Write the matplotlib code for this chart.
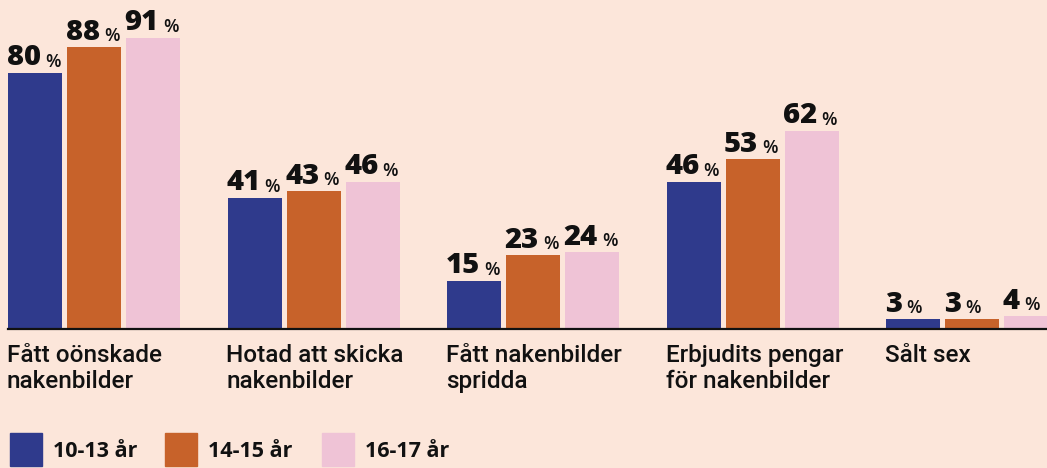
import matplotlib
matplotlib.use("Agg")
import matplotlib.pyplot as plt

categories = ["Fått oönskade\nnakenbilder", "Hotad att skicka\nnakenbilder",
              "Fått nakenbilder\nspridda", "Erbjudits pengar\nför nakenbilder", "Sålt sex"]
series_names = ["10-13 år", "14-15 år", "16-17 år"]
v_10_13 = [80, 41, 15, 46, 3]
v_14_15 = [88, 43, 23, 53, 3]
v_16_17 = [91, 46, 24, 62, 4]
values = [v_10_13, v_14_15, v_16_17]
colors = ["#2f3a8c", "#c7622a", "#efc3d6"]
bg = "#fce6da"
ink = "#111111"

W, H = 1047, 468
fig = plt.figure(figsize=(W / 100, H / 100), dpi=100, facecolor=bg)
# axes in pixel units
ax_left, ax_bottom_px, ax_top_px = 8, 329, 9
ax = fig.add_axes([ax_left / W, (H - ax_bottom_px) / H, (W - ax_left) / W,
                   (ax_bottom_px - ax_top_px) / H])
ax.set_facecolor(bg)
ax.set_xlim(0, W - ax_left)
ax.set_ylim(0, 100)
for s in ["top", "right", "left"]:
    ax.spines[s].set_visible(False)
ax.spines["bottom"].set_linewidth(1.6)
ax.spines["bottom"].set_color(ink)
ax.set_xticks([])
ax.set_yticks([])

group_step = 219.5
bar_w = 54
bar_step = 59
font = "Open Sans"
label_font = "Roboto"

for k, (vals, col) in enumerate(zip(values, colors)):
    xs = [g * group_step + k * bar_step for g in range(len(categories))]
    ax.bar(xs, vals, width=bar_w, align="edge", color=col, clip_on=False, zorder=2)
    for x, v in zip(xs, vals):
        num = ax.annotate(f"{v}", xy=(x, v), xytext=(-1, 5.5), textcoords="offset points",
                          ha="left", va="baseline", fontsize=21, fontweight=800,
                          color=ink, family=font, annotation_clip=False)
        ax.annotate("%", xy=(1, 0), xycoords=num, xytext=(3, 1.0), textcoords="offset points",
                    ha="left", va="bottom", fontsize=13, fontweight=600, color=ink, family=font,
                    annotation_clip=False)

for g, cat in enumerate(categories):
    for i, line in enumerate(cat.split("\n")):
        ax.annotate(line, xy=(g * group_step - 1, 0), xytext=(0, -24 - 18.5 * i),
                    textcoords="offset points", ha="left", va="baseline", fontsize=17.5,
                    fontweight=500, color=ink, family=label_font, annotation_clip=False)

# legend
leg_x = [10, 165, 322]
for name, col, lx in zip(series_names, colors, leg_x):
    fig.patches.append(plt.Rectangle((lx / W, (H - 466) / H), 32 / W, 33 / H,
                                     transform=fig.transFigure, color=col, figure=fig))
    fig.text((lx + 43) / W, (H - 449) / H, name, ha="left", va="center_baseline",
             fontsize=15.5, fontweight="bold", color=ink, family=font)

fig.savefig("out.png", dpi=100, facecolor=bg)
